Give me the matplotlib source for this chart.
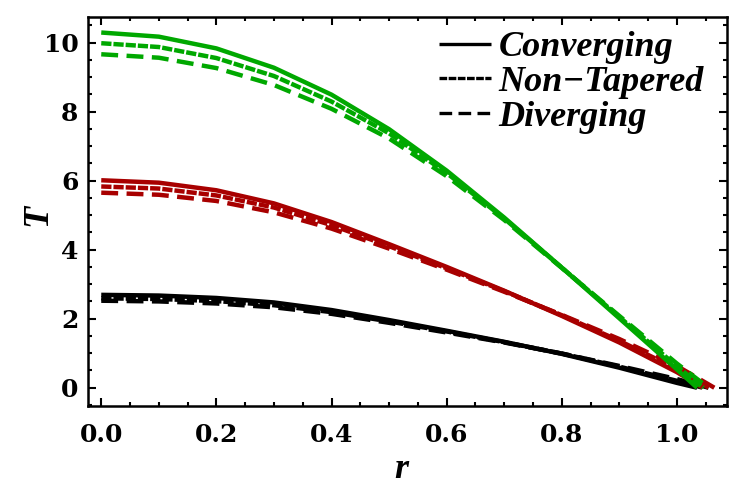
import matplotlib
matplotlib.use("Agg")
import matplotlib.pyplot as plt
from matplotlib.ticker import MultipleLocator

r_grid = [0.0, 0.1, 0.2, 0.3, 0.4, 0.5, 0.6, 0.7, 0.8, 0.9, 1.0]
r_end_green = [1.035, 1.046, 1.055]
r_end_red = [1.045, 1.055, 1.065]
r_end_black = [1.035, 1.045, 1.055]

# green family: converging, non-tapered, diverging
green_conv = [10.29, 10.17, 9.83, 9.27, 8.49, 7.49, 6.29, 4.93, 3.48, 2.01, 0.53, 0.0]
green_flat = [9.98, 9.87, 9.55, 9.03, 8.29, 7.37, 6.22, 4.90, 3.48, 2.05, 0.62, 0.0]
green_div = [9.66, 9.56, 9.26, 8.77, 8.08, 7.22, 6.13, 4.86, 3.47, 2.08, 0.70, 0.0]

# red family
red_conv = [6.01, 5.94, 5.72, 5.34, 4.80, 4.16, 3.50, 2.81, 2.08, 1.31, 0.45, 0.0]
red_flat = [5.83, 5.77, 5.57, 5.22, 4.71, 4.10, 3.46, 2.80, 2.10, 1.36, 0.54, 0.0]
red_div = [5.65, 5.59, 5.41, 5.08, 4.61, 4.03, 3.42, 2.78, 2.11, 1.41, 0.63, 0.0]

# black family
black_conv = [2.69, 2.67, 2.60, 2.47, 2.25, 1.96, 1.65, 1.33, 0.98, 0.58, 0.14, 0.0]
black_flat = [2.59, 2.57, 2.51, 2.39, 2.19, 1.92, 1.63, 1.32, 0.99, 0.61, 0.20, 0.0]
black_div = [2.52, 2.50, 2.44, 2.33, 2.14, 1.88, 1.60, 1.31, 0.99, 0.63, 0.25, 0.0]

labels = ["Converging", "Non\u2212Tapered", "Diverging"]
colors = {"black": "#000000", "red": "#A80000", "green": "#00A800"}

plt.rcParams['font.family'] = ['Liberation Serif', 'DejaVu Serif']

lw = 3.2
styles = [(0, ()), (0, (2.3, 0.45)), (0, (3.8, 1.9))]

fig = plt.figure(figsize=(7.31, 4.91), dpi=100)
ax = fig.add_axes([0.1204, 0.1731, 0.8741, 0.7923])

families = [
    (colors["black"], r_end_black, [black_conv, black_flat, black_div]),
    (colors["red"], r_end_red, [red_conv, red_flat, red_div]),
    (colors["green"], r_end_green, [green_conv, green_flat, green_div]),
]
for col, ends, curves in families:
    for r_end, yy, ls in zip(ends, curves, styles):
        ax.plot(r_grid + [r_end], yy, color=col, lw=lw, linestyle=ls,
                dash_capstyle='butt', solid_joinstyle='round')

# legend handles in black
handles = []
for ls, lab in zip(styles, labels):
    h, = ax.plot([], [], color='black', lw=2.4, linestyle=ls, dash_capstyle='butt', label=lab)
    handles.append(h)
ax.legend(handles=handles, loc='upper right', bbox_to_anchor=(0.998, 1.02), frameon=False,
          prop={'weight': 'bold', 'style': 'italic', 'size': 26},
          handlelength=1.45, handletextpad=0.2, labelspacing=0.04, borderaxespad=0.2)

ax.set_xlim(-0.023, 1.087)
ax.set_ylim(-0.53, 10.74)
ax.xaxis.set_major_locator(MultipleLocator(0.2))
ax.xaxis.set_minor_locator(MultipleLocator(0.05))
ax.yaxis.set_major_locator(MultipleLocator(2))
ax.yaxis.set_minor_locator(MultipleLocator(0.5))
ax.xaxis.set_major_formatter(plt.FuncFormatter(lambda v, p: f"{v:.1f}"))
ax.tick_params(which='both', direction='in', top=True, right=True, width=1.5)
ax.tick_params(which='major', length=6)
ax.tick_params(which='minor', length=3)
ax.tick_params(axis='x', pad=12)
ax.tick_params(axis='y', pad=7)
for lab in ax.get_xticklabels() + ax.get_yticklabels():
    lab.set_fontweight('bold')
    lab.set_fontfamily('DejaVu Serif')
    lab.set_fontsize(18)
for s in ax.spines.values():
    s.set_linewidth(1.8)

ax.set_xlabel('r', fontsize=26, fontweight='bold', style='italic')
ax.set_ylabel('T', fontsize=26, fontweight='bold', style='italic', rotation=90)
ax.xaxis.set_label_coords(0.49, -0.122)
ax.yaxis.set_label_coords(-0.052, 0.49)

fig.savefig('out.png', dpi=100)
